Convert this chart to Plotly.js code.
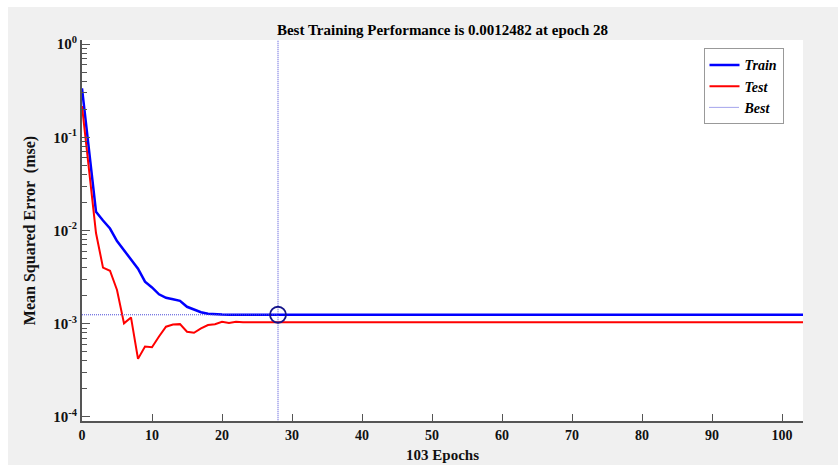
<!DOCTYPE html>
<html>
<head>
<meta charset="utf-8">
<script src="https://cdn.plot.ly/plotly-3.0.1.min.js"></script>
<style>
  html, body { margin: 0; padding: 0; background: #ffffff; }
  #chart { position: absolute; left: 8px; top: 7px; width: 830px; height: 458px; }
</style>
</head>
<body>
<div id="chart"></div>
<script>
// ---- data ----
const trainMse = [
  0.335, 0.075, 0.0159, 0.0128, 0.0105, 0.0077, 0.0061, 0.0049, 0.0039, 0.00283,
  0.00245, 0.00207, 0.0019, 0.00183, 0.00176, 0.00152, 0.00142, 0.00133, 0.00128, 0.00126,
  0.001255, 0.00125, 0.00125, 0.00125, 0.001249, 0.001249, 0.001249, 0.001249, 0.0012482,
  0.001249, 0.001249, 0.001249, 0.001249, 0.001249, 0.001249, 0.001249, 0.001249, 0.001249, 0.001249, 0.001249, 0.001249, 0.001249, 0.001249, 0.001249,
  0.001249, 0.001249, 0.001249, 0.001249, 0.001249, 0.001249, 0.001249, 0.001249, 0.001249, 0.001249, 0.001249, 0.001249, 0.001249, 0.001249, 0.001249,
  0.001249, 0.001249, 0.001249, 0.001249, 0.001249, 0.001249, 0.001249, 0.001249, 0.001249, 0.001249, 0.001249, 0.001249, 0.001249, 0.001249, 0.001249,
  0.001249, 0.001249, 0.001249, 0.001249, 0.001249, 0.001249, 0.001249, 0.001249, 0.001249, 0.001249, 0.001249, 0.001249, 0.001249, 0.001249, 0.001249,
  0.001249, 0.001249, 0.001249, 0.001249, 0.001249, 0.001249, 0.001249, 0.001249, 0.001249, 0.001249, 0.001249, 0.001249, 0.001249, 0.001249, 0.001249
];
const testMse = [
  0.216, 0.045, 0.0094, 0.0040, 0.0037, 0.0023, 0.00101, 0.00117, 0.00042, 0.00057,
  0.00056, 0.00073, 0.00093, 0.00098, 0.00099, 0.00082, 0.00080, 0.00089, 0.00097, 0.00099,
  0.00105, 0.00102, 0.00105, 0.00104, 0.00104, 0.00105,
  0.00104, 0.00104, 0.00104, 0.00104, 0.00104, 0.00104, 0.00104, 0.00104, 0.00104, 0.00104, 0.00104, 0.00104, 0.00104, 0.00104, 0.00104,
  0.00104, 0.00104, 0.00104, 0.00104, 0.00104, 0.00104, 0.00104, 0.00104, 0.00104, 0.00104, 0.00104, 0.00104, 0.00104, 0.00104, 0.00104,
  0.00104, 0.00104, 0.00104, 0.00104, 0.00104, 0.00104, 0.00104, 0.00104, 0.00104, 0.00104, 0.00104, 0.00104, 0.00104, 0.00104, 0.00104,
  0.00104, 0.00104, 0.00104, 0.00104, 0.00104, 0.00104, 0.00104, 0.00104, 0.00104, 0.00104, 0.00104, 0.00104, 0.00104, 0.00104, 0.00104,
  0.00104, 0.00104, 0.00104, 0.00104, 0.00104, 0.00104, 0.00104, 0.00104, 0.00104, 0.00104, 0.00104, 0.00104, 0.00104, 0.00104, 0.00104,
  0.00104, 0.00104, 0.00104
];
const epochs = trainMse.map((_, i) => i);
const bestEpoch = 28;
const bestPerf = 0.0012482;
const xTickVals = [0, 10, 20, 30, 40, 50, 60, 70, 80, 90, 100];
const yTickVals = [1e-4, 1e-3, 1e-2, 1e-1, 1];
const yTickText = ['10<sup>-4</sup>', '10<sup>-3</sup>', '10<sup>-2</sup>', '10<sup>-1</sup>', '10<sup>0</sup>'];
const legendNames = ['Train', 'Test', 'Best'];
const titleText = 'Best Training Performance is 0.0012482 at epoch 28';
const xTitle = '103 Epochs';
const yTitle = 'Mean Squared Error  (mse)';

// minor tick positions on the log axis (2..9 within each decade)
const minorVals = [];
for (let d = -4; d < 0; d++) for (let m = 2; m <= 9; m++) minorVals.push(m * Math.pow(10, d));

const FONT = 'Liberation Serif, Times New Roman, serif';
const AXC = '#555555';

const traces = [
  { x: epochs, y: trainMse, type: 'scatter', mode: 'lines', name: legendNames[0],
    line: { color: '#0000ff', width: 2.5 } },
  { x: epochs, y: testMse, type: 'scatter', mode: 'lines', name: legendNames[1],
    line: { color: '#ff0000', width: 2 } },
  { x: [0, bestEpoch, null, bestEpoch, bestEpoch], y: [bestPerf, bestPerf, null, 1e-5, 10],
    type: 'scatter', mode: 'lines', name: legendNames[2],
    line: { color: '#4a4ad8', width: 1, dash: '1px,1px' } },
  { x: [bestEpoch], y: [bestPerf], type: 'scatter', mode: 'markers', showlegend: false,
    marker: { symbol: 'circle-open', size: 16, color: '#14148a', line: { width: 1.8, color: '#14148a' } } }
];

const layout = {
  width: 830, height: 458,
  paper_bgcolor: '#f0f0f0', plot_bgcolor: '#ffffff',
  margin: { l: 74, r: 35, t: 33, b: 44 },
  font: { family: FONT, color: '#111111', size: 13 },
  title: { text: titleText, x: 0.5, xref: 'paper', xanchor: 'center', y: 0.95, yref: 'container', yanchor: 'middle',
    font: { family: FONT, size: 15, weight: 'bold', color: '#000000' } },
  xaxis: {
    range: [0, 103], tickmode: 'array', tickvals: xTickVals,
    ticks: 'inside', ticklen: 7, tickwidth: 1, tickcolor: AXC,
    showline: true, linecolor: AXC, linewidth: 2, showgrid: false, zeroline: false,
    tickfont: { family: FONT, size: 14, weight: 'bold', color: '#111' },
    title: { text: xTitle, standoff: 8, font: { family: FONT, size: 15, weight: 'bold', color: '#111' } }
  },
  yaxis: {
    type: 'log', range: [-4.043, 0.043], tickmode: 'array', tickvals: yTickVals, ticktext: yTickText,
    ticks: 'inside', ticklen: 8, tickwidth: 1, tickcolor: AXC,
    minor: { tickmode: 'array', tickvals: minorVals, ticks: 'inside', ticklen: 5, tickwidth: 1, tickcolor: AXC, showgrid: false },
    showline: true, linecolor: AXC, linewidth: 2, showgrid: false, zeroline: false,
    tickfont: { family: FONT, size: 15, weight: 'bold', color: '#111' },
    title: { text: yTitle, standoff: 14, font: { family: FONT, size: 16, weight: 'bold', color: '#111' } }
  },
  legend: {
    x: 0.862, y: 0.978, xanchor: 'left', yanchor: 'top',
    bgcolor: '#ffffff', bordercolor: '#999999', borderwidth: 1,
    font: { family: FONT, size: 14, weight: 'bold', style: 'italic', color: '#000' },
    tracegroupgap: 0
  },
  showlegend: true
};

Plotly.newPlot('chart', traces, layout, { displayModeBar: false, staticPlot: true });
</script>
</body>
</html>
